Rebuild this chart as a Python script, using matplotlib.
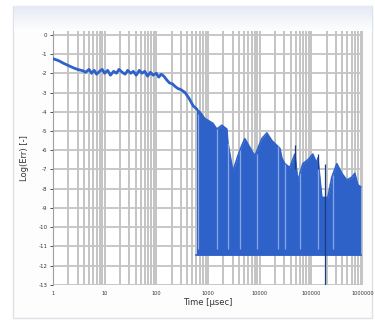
import numpy as np
import matplotlib.pyplot as plt
from matplotlib.colors import LinearSegmentedColormap
from matplotlib.patches import Rectangle
from matplotlib.ticker import FixedLocator, LogLocator, NullFormatter

# smooth start of the run (time, log value)
t_start = [1, 1.3, 1.6, 2, 2.5, 3, 3.8, 4.3, 5, 5.6, 6.3, 7, 8, 9, 10, 11.5, 13, 15, 17,
           19, 22, 25, 28, 32, 36, 41, 47, 53, 60, 68, 77, 87, 100, 112, 125, 140, 160,
           180, 205, 235, 265, 300, 360, 430, 520, 600]
v_start = [-1.24, -1.35, -1.48, -1.6, -1.72, -1.8, -1.87, -1.95, -1.8, -2.0, -1.85, -2.05,
           -1.9, -1.8, -2.0, -1.85, -2.1, -1.9, -2.0, -1.8, -1.95, -2.05, -1.85, -2.0,
           -1.9, -2.1, -1.85, -2.0, -1.9, -2.15, -1.95, -2.1, -2.0, -2.2, -2.05, -2.15,
           -2.35, -2.5, -2.55, -2.7, -2.8, -2.85, -3.0, -3.3, -3.7, -3.85]

# noisy part: upper envelope of the oscillation, lower bound is the floor
t_noise = [600, 697, 871, 1244, 1486, 1857, 2320, 2427, 3033, 3788, 4529, 5175, 6460,
           8070, 11030, 13780, 17220, 24600, 26880, 30700, 38370, 47960, 54800, 68500,
           85500, 106900, 127700, 133700, 159600, 208500, 249300, 311300, 389000,
           486000, 607000, 694000, 793000, 906000]
v_noise = [-3.85, -4.0, -4.35, -4.6, -4.9, -4.7, -4.9, -5.6, -7.1, -6.3, -5.75, -5.4,
           -5.85, -6.3, -5.4, -5.1, -5.5, -5.9, -6.4, -6.7, -6.9, -6.2, -7.6, -6.7, -6.5,
           -6.2, -6.7, -6.4, -8.45, -8.45, -7.4, -6.7, -7.2, -7.55, -7.4, -7.2, -7.8,
           -7.9]
v_floor = -11.45

# thin lighter gaps inside the noisy band
t_gaps = [640, 1486, 2427, 4140, 8830, 22500, 30700, 60000, 133700, 260600]
v_gaps = [-4.1, -4.9, -5.6, -6.0, -6.2, -5.8, -6.7, -7.2, -6.4, -7.3]

# dark spikes: (time, top, bottom)
t_spikes = [47960, 133700, 182400]
v_spike_top = [-5.75, -6.2, -6.7]
v_spike_bot = [-7.0, -7.0, -13]

x_ticks = [1, 10, 100, 1000, 10000, 100000, 1000000]
y_ticks = list(range(0, -14, -1))

blue = '#2f62c9'

fig = plt.figure(figsize=(3.75, 3.22), dpi=100)
fig.patch.set_facecolor('white')

# panel behind the chart
panel = Rectangle((0.035, 0.012), 0.957, 0.97, transform=fig.transFigure,
                  facecolor='#fdfdfe', edgecolor='#dde1e8', linewidth=1, zorder=-2)
fig.patches.append(panel)
grad = np.linspace(0, 1, 50).reshape(-1, 1)
gax = fig.add_axes([0.037, 0.9, 0.953, 0.08], zorder=-1)
gax.imshow(grad, aspect='auto', origin='lower', extent=[0, 1, 0, 1],
           cmap=LinearSegmentedColormap.from_list('g', ['#ffffff', '#e4eaf5']))
gax.axis('off')

ax = fig.add_axes([0.141, 0.115, 0.827, 0.789])
ax.set_facecolor('white')

ax.fill_between(t_noise, v_noise, v_floor, color=blue, linewidth=0, zorder=3)
ax.plot(t_noise, v_noise, color=blue, linewidth=1.2, zorder=3)
ax.plot([t_noise[0], t_noise[-1]], [v_floor, v_floor], color=blue, linewidth=1.2, zorder=3)
ax.vlines(t_gaps, v_floor + 0.3, v_gaps, color='#86a6e6', linewidth=0.9, zorder=4)
ax.plot(t_start, v_start, color=blue, linewidth=2.0, zorder=3)
ax.vlines(t_spikes, v_spike_bot, v_spike_top, color='#1d3a80', linewidth=0.9, zorder=5)

ax.set_xscale('log')
ax.set_xlim(1, 1000000)
ax.set_ylim(-13, 0.2)
ax.xaxis.set_major_locator(FixedLocator(x_ticks))
ax.set_xticklabels([str(x) for x in x_ticks])
ax.xaxis.set_minor_locator(LogLocator(base=10, subs=np.arange(2, 10)))
ax.xaxis.set_minor_formatter(NullFormatter())
ax.set_yticks(y_ticks)
ax.set_yticklabels([str(y) for y in y_ticks])

ax.grid(True, which='both', axis='x', color='#c4c4c4', linewidth=1.4, zorder=0)
ax.grid(True, which='major', axis='y', color='#c4c4c4', linewidth=1.3, zorder=0)
ax.set_axisbelow(True)

for s in ['top', 'right', 'bottom']:
    ax.spines[s].set_visible(False)
ax.spines['left'].set_color('#a0a0a0')
ax.tick_params(axis='y', which='both', labelsize=4, colors='#333333', length=2, width=0.6, pad=2)
ax.tick_params(axis='x', which='both', labelsize=3.6, colors='#333333', length=0, pad=4)

ax.set_xlabel('Time [μsec]', fontsize=6, color='#333333', labelpad=2)
ax.set_ylabel('Log(Err) [-]', fontsize=6, color='#333333', labelpad=7)

fig.savefig('out.png', dpi=100)
